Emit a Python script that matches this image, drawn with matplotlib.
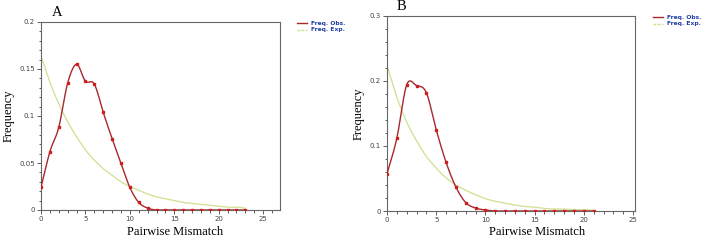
import numpy as np
import matplotlib
matplotlib.use("Agg")
import matplotlib.pyplot as plt
from matplotlib.ticker import MultipleLocator

# Panel A: mismatch distribution
mismatch_a = list(range(24))
obs_a = [0.024, 0.062, 0.088, 0.135, 0.155, 0.137, 0.134, 0.104, 0.076, 0.050,
         0.024, 0.008, 0.002, 0.0, 0.0, 0.0, 0.0, 0.0, 0.0, 0.0, 0.0, 0.0, 0.0, 0.0]
exp_a = [0.164, 0.136, 0.113, 0.094, 0.078, 0.064, 0.053, 0.044, 0.037, 0.030,
         0.025, 0.021, 0.017, 0.014, 0.012, 0.010, 0.008, 0.007, 0.006, 0.005,
         0.004, 0.003, 0.003, 0.002]

# Panel B
mismatch_b = list(range(22))
obs_b = [0.057, 0.112, 0.194, 0.193, 0.182, 0.125, 0.075, 0.037, 0.013, 0.0045,
         0.0015, 0.0, 0.0, 0.0, 0.0, 0.0, 0.0, 0.0, 0.0, 0.0, 0.0, 0.0]
exp_b = [0.224, 0.175, 0.137, 0.108, 0.084, 0.066, 0.051, 0.040, 0.032, 0.025,
         0.019, 0.015, 0.012, 0.009, 0.007, 0.006, 0.004, 0.003, 0.003, 0.002,
         0.002, 0.001]

OBS_COLOR = "#a8282c"
DOT_COLOR = "#cc1f1f"
EXP_COLOR = "#cfe08e"


def smooth(x, y, n=12):
    # Catmull-Rom curve through the points, only for drawing
    x = np.asarray(x, float)
    y = np.asarray(y, float)
    px = np.concatenate([[2 * x[0] - x[1]], x, [2 * x[-1] - x[-2]]])
    py = np.concatenate([[2 * y[0] - y[1]], y, [2 * y[-1] - y[-2]]])
    xs, ys = [], []
    t = np.linspace(0, 1, n, endpoint=False)
    for i in range(1, len(px) - 2):
        p0, p1, p2, p3 = py[i - 1], py[i], py[i + 1], py[i + 2]
        q0, q1, q2, q3 = px[i - 1], px[i], px[i + 1], px[i + 2]
        ys.append(0.5 * (2 * p1 + (-p0 + p2) * t + (2 * p0 - 5 * p1 + 4 * p2 - p3) * t ** 2
                         + (-p0 + 3 * p1 - 3 * p2 + p3) * t ** 3))
        xs.append(0.5 * (2 * q1 + (-q0 + q2) * t + (2 * q0 - 5 * q1 + 4 * q2 - q3) * t ** 2
                         + (-q0 + 3 * q1 - 3 * q2 + q3) * t ** 3))
    xs.append([x[-1]])
    ys.append([y[-1]])
    return np.concatenate(xs), np.clip(np.concatenate(ys), 0, None)


def panel(fig, rect, x, obs, exp, xmax, ymax, ymajor, yminor, letter, letter_pos,
          legend_pos, ylabel_x, xlabel_x):
    ax = fig.add_axes(rect)
    sx, sy = smooth(x, exp)
    ax.plot(sx, sy, color=EXP_COLOR, lw=0.9, zorder=2)
    sx, sy = smooth(x, obs)
    ax.plot(sx, sy, color=OBS_COLOR, lw=1.0, zorder=3)
    ax.plot(x, obs, ls="none", marker="s", ms=1.8, color=DOT_COLOR, mec=DOT_COLOR, zorder=4)

    ax.set_xlim(0, xmax)
    ax.set_ylim(0, ymax)
    ax.xaxis.set_major_locator(MultipleLocator(5))
    ax.xaxis.set_minor_locator(MultipleLocator(1))
    ax.yaxis.set_major_locator(MultipleLocator(ymajor))
    ax.yaxis.set_minor_locator(MultipleLocator(yminor))
    ax.yaxis.set_major_formatter(plt.FuncFormatter(lambda v, p: f"{v:g}"))
    ax.tick_params(which="both", direction="out", colors="#444444", labelsize=5,
                   width=0.6, pad=1.5)
    ax.tick_params(which="major", length=3)
    ax.tick_params(which="minor", length=1.8)
    for s in ax.spines.values():
        s.set_color("#666666")
        s.set_linewidth(0.8)

    fig.text(letter_pos[0], letter_pos[1], letter, family="Liberation Serif",
             fontsize=10.5, ha="left", va="center")
    fig.text(ylabel_x, rect[1] + rect[3] / 2, "Frequency", family="Liberation Serif",
             fontsize=9, rotation=90, ha="center", va="center")
    fig.text(xlabel_x, 1 - 232 / 241, "Pairwise Mismatch", family="Liberation Serif",
             fontsize=9, ha="center", va="center")

    lx, ly = legend_pos
    for i, (lab, col, ls) in enumerate([("Freq. Obs.", OBS_COLOR, "-"),
                                        ("Freq. Exp.", EXP_COLOR, "--")]):
        yy = ly - i * 7 / 241
        fig.add_artist(plt.Line2D([lx, lx + 10 / 709], [yy, yy], color=col, lw=1.0,
                                  ls=ls, dashes=(2, 1) if ls == "--" else (None, None),
                                  transform=fig.transFigure))
        fig.text(lx + 14 / 709, yy, lab, color="#1f3fa8", fontsize=4.3,
                 fontweight="bold", ha="left", va="center")
    return ax


fig = plt.figure(figsize=(7.09, 2.41), dpi=100)

panel(fig, [41 / 709, 1 - 210 / 241, 239 / 709, 188 / 241],
      mismatch_a, obs_a, exp_a, 26.9, 0.2, 0.05, 0.01,
      "A", (52 / 709, 1 - 13 / 241), (297 / 709, 1 - 23 / 241),
      9 / 709, 175 / 709)

panel(fig, [387 / 709, 1 - 211 / 241, 248 / 709, 195 / 241],
      mismatch_b, obs_b, exp_b, 25.2, 0.3, 0.1, 0.02,
      "B", (397 / 709, 1 - 7 / 241), (653 / 709, 1 - 17 / 241),
      359 / 709, 537 / 709)

fig.savefig("out.png", dpi=100)
